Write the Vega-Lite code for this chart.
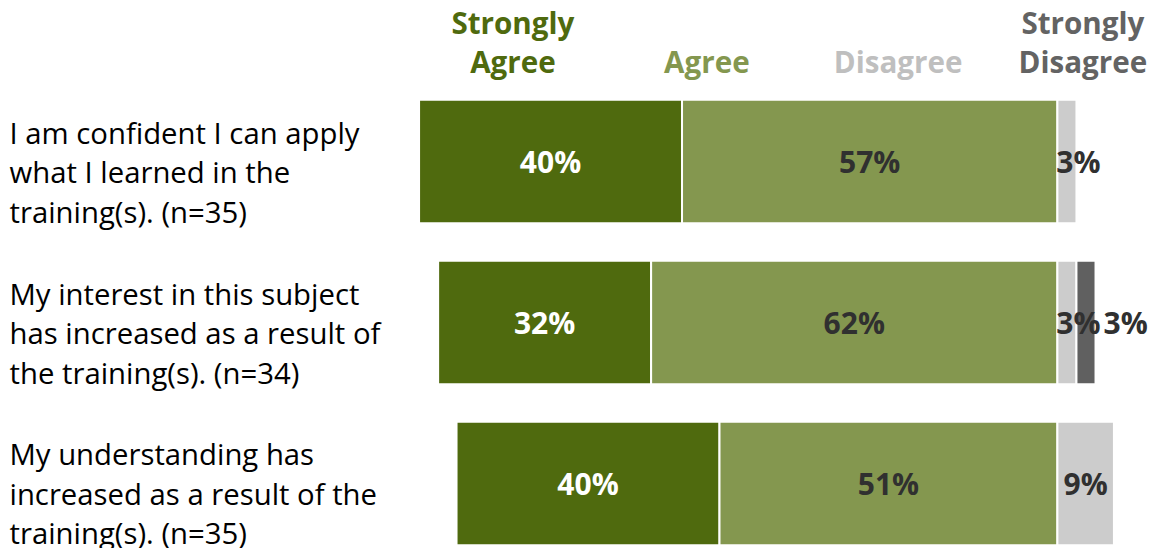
{
  "$schema": "https://vega.github.io/schema/vega-lite/v6.json",
  "autosize": {"type": "none"},
  "padding": {"left": 400, "top": 92, "right": 0, "bottom": 0},
  "width": 756,
  "height": 461,
  "background": "white",
  "config": {"view": {"stroke": null}, "font": "Open Sans"},
  "data": {"values": [
    {"question": "I am confident I can apply|what I learned in the|training(s). (n=35)", "category": "Strongly Agree", "order": 1, "pct": 40.0},
    {"question": "I am confident I can apply|what I learned in the|training(s). (n=35)", "category": "Agree", "order": 2, "pct": 57.1},
    {"question": "I am confident I can apply|what I learned in the|training(s). (n=35)", "category": "Disagree", "order": 3, "pct": 2.9},
    {"question": "My interest in this subject|has increased as a result of|the training(s). (n=34)", "category": "Strongly Agree", "order": 1, "pct": 32.4},
    {"question": "My interest in this subject|has increased as a result of|the training(s). (n=34)", "category": "Agree", "order": 2, "pct": 61.8},
    {"question": "My interest in this subject|has increased as a result of|the training(s). (n=34)", "category": "Disagree", "order": 3, "pct": 2.9},
    {"question": "My interest in this subject|has increased as a result of|the training(s). (n=34)", "category": "Strongly Disagree", "order": 4, "pct": 2.9},
    {"question": "My understanding has|increased as a result of the|training(s). (n=35)", "category": "Strongly Agree", "order": 1, "pct": 40.0},
    {"question": "My understanding has|increased as a result of the|training(s). (n=35)", "category": "Agree", "order": 2, "pct": 51.4},
    {"question": "My understanding has|increased as a result of the|training(s). (n=35)", "category": "Disagree", "order": 3, "pct": 8.6}
  ]},
  "transform": [
    {"calculate": "datum.order <= 2 ? datum.pct : 0", "as": "leftPart"},
    {"joinaggregate": [{"op": "sum", "field": "leftPart", "as": "leftTotal"}], "groupby": ["question"]},
    {"stack": "pct", "groupby": ["question"], "sort": [{"field": "order", "order": "ascending"}], "as": ["s0", "s1"]},
    {"calculate": "datum.s0 - datum.leftTotal", "as": "x0"},
    {"calculate": "datum.s1 - datum.leftTotal", "as": "x1"},
    {"calculate": "datum.order == 3 ? max((datum.x0 + datum.x1) / 2, datum.x0 + 3.2) : (datum.x0 + datum.x1) / 2", "as": "labelX"},
    {"calculate": "format(datum.pct, '.0f') + '%'", "as": "label"}
  ],
  "encoding": {
    "y": {
      "field": "question", "type": "nominal", "sort": null, "title": null,
      "scale": {"paddingInner": 0.232, "paddingOuter": 0.048},
      "axis": {
        "orient": "left", "labelAlign": "left", "labelPadding": 391, "labelLimit": 500,
        "labelExpr": "split(datum.label, '|')", "labelFontSize": 29.3, "labelColor": "#000000",
        "labelLineHeight": 39.5, "labelBaseline": "middle", "labelOffset": -27,
        "domain": false, "ticks": false, "tickSize": 0, "grid": false
      }
    }
  },
  "layer": [
    {
      "mark": {"type": "bar", "stroke": "white", "strokeWidth": 2},
      "encoding": {
        "x": {
          "field": "x0", "type": "quantitative", "title": null,
          "scale": {"domain": [-100, 15], "nice": false, "zero": false},
          "axis": {
            "orient": "top", "values": [-82.9, -53.4, -24.3, 3.8],
            "labelExpr": "datum.value < -70 ? ['Strongly', 'Agree'] : datum.value < -40 ? ['', 'Agree'] : datum.value < 0 ? ['', 'Disagree'] : ['Strongly', 'Disagree']",
            "labelColor": {
              "condition": [
                {"test": "datum.value < -70", "value": "#4F6A0E"},
                {"test": "datum.value < -40", "value": "#84974F"},
                {"test": "datum.value < 0", "value": "#BFBFBF"}
              ],
              "value": "#636363"
            },
            "labelFontSize": 29.6, "labelFontWeight": "bold", "labelLineHeight": 39.5,
            "labelBaseline": "bottom", "labelPadding": 53, "labelAlign": "center",
            "labelOverlap": false, "labelFlush": false, "labelBound": false,
            "domain": false, "ticks": false, "tickSize": 0, "grid": false
          }
        },
        "x2": {"field": "x1"},
        "color": {
          "field": "category", "type": "nominal", "legend": null,
          "scale": {
            "domain": ["Strongly Agree", "Agree", "Disagree", "Strongly Disagree"],
            "range": ["#4F6A0E", "#84974F", "#CCCCCC", "#606060"]
          }
        }
      }
    },
    {
      "transform": [{"filter": "datum.order <= 3"}],
      "mark": {"type": "text", "fontSize": 30, "fontWeight": "bold", "baseline": "middle", "align": "center", "dy": 2.5},
      "encoding": {
        "x": {"field": "labelX", "type": "quantitative"},
        "text": {"field": "label"},
        "color": {"condition": {"test": "datum.order == 1", "value": "#FFFFFF"}, "value": "#303030"}
      }
    },
    {
      "transform": [{"filter": "datum.order == 4"}],
      "mark": {"type": "text", "fontSize": 30, "fontWeight": "bold", "baseline": "middle", "align": "left", "dx": 8, "dy": 2.5},
      "encoding": {
        "x": {"field": "x1", "type": "quantitative"},
        "text": {"field": "label"},
        "color": {"value": "#303030"}
      }
    },
    {
      "mark": {"type": "rule", "color": "#000000", "strokeWidth": 4},
      "encoding": {"x": {"datum": 0}}
    }
  ]
}
